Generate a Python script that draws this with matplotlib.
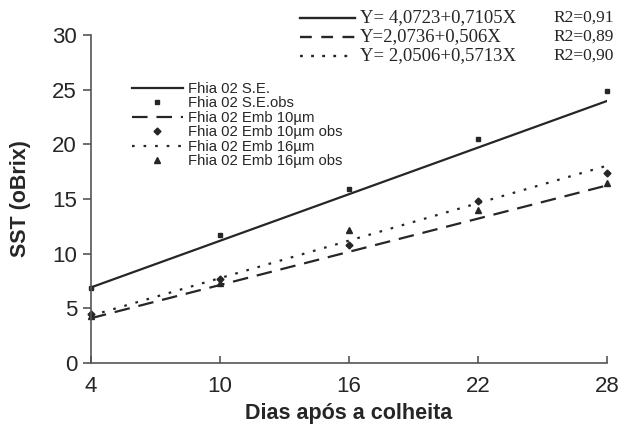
import numpy as np
import matplotlib
matplotlib.use("Agg")
import matplotlib.pyplot as plt
from matplotlib.lines import Line2D

days = np.array([4, 10, 16, 22, 28])
se_obs = [6.9, 11.7, 15.9, 20.5, 24.9]
emb10_obs = [4.5, 7.7, 10.8, 14.8, 17.4]
emb16_obs = [4.3, 7.3, 12.2, 14.0, 16.5]

# regression coefficients (intercept, slope) as printed
fits = {
    "se": (4.0723, 0.7105),
    "emb10": (2.0736, 0.506),
    "emb16": (2.0506, 0.5713),
}
eq_labels = ["Y= 4,0723+0,7105X", "Y=2,0736+0,506X", "Y= 2,0506+0,5713X"]
r2_labels = ["R2=0,91", "R2=0,89", "R2=0,90"]

plt.rcParams['font.family'] = ['Liberation Sans', 'DejaVu Sans']
C = '#262626'
W, H = 622, 430

fig = plt.figure(figsize=(6.22, 4.30), dpi=100)
ax = fig.add_axes([91 / W, 1 - 363 / H, (607 - 91) / W, (363 - 35) / H])

def fitline(key):
    a, b = fits[key]
    return a + b * days

ax.plot(days, fitline("se"), '-', color=C, lw=1.6, label='Fhia 02 S.E.')
ax.plot(days, se_obs, 's', color=C, ms=3.5, label='Fhia 02 S.E.obs', clip_on=False)
ax.plot(days, fitline("emb10"), '--', color=C, lw=1.6, dashes=(7, 4), label='Fhia 02 Emb 10µm')
ax.plot(days, emb10_obs, 'D', color=C, ms=3.5, label='Fhia 02 Emb 10µm obs', clip_on=False)
ax.plot(days, fitline("emb16"), ':', color=C, lw=1.6, dashes=(1.2, 4), label='Fhia 02 Emb 16µm')
ax.plot(days, emb16_obs, '^', color=C, ms=4, label='Fhia 02 Emb 16µm obs', clip_on=False)

ax.set_xlim(4, 28)
ax.set_ylim(0, 30)
ax.set_xticks(days)
ax.set_yticks(np.arange(0, 31, 5))
for s in ['top', 'right']:
    ax.spines[s].set_visible(False)
for s in ['left', 'bottom']:
    ax.spines[s].set_color('#555555')
    ax.spines[s].set_linewidth(1.2)
ax.tick_params(axis='y', direction='out', length=6, width=1.2, color='#555555',
               labelsize=16, labelcolor=C, pad=4)
ax.tick_params(axis='x', direction='in', length=5, width=1.2, color='#555555',
               labelsize=16, labelcolor=C, pad=9)

ax.set_xlabel('Dias após a colheita', fontsize=15.5, fontweight='bold', color=C)
ax.xaxis.set_label_coords(0.5, (363 - 413) / 328)
ax.xaxis.label.set_va('center')
ax.set_ylabel('SST (oBrix)', fontsize=15.5, fontweight='bold', color=C)
ax.yaxis.set_label_coords((21 - 91) / 516, 0.5)
ax.yaxis.label.set_va('center')

leg = ax.legend(loc='upper left', bbox_to_anchor=(132 / W, 1 - 82 / H),
                bbox_transform=fig.transFigure, frameon=False,
                fontsize=10.7, handlelength=3.4, handletextpad=0.35,
                labelspacing=0.03, borderaxespad=0, borderpad=0)
for t in leg.get_texts():
    t.set_color(C)

# equation block at top right (figure coordinates)
styles = [dict(ls='-'), dict(ls='--', dashes=(5, 4)), dict(ls=':', dashes=(1.2, 3.5))]
rows_y = [18, 37, 56]
for (st, yy, eq, r2) in zip(styles, rows_y, eq_labels, r2_labels):
    fy = 1 - yy / H
    fig.add_artist(Line2D([300 / W, 355 / W], [fy, fy], color=C, lw=1.7,
                          transform=fig.transFigure, **st))
    fig.text(360 / W, fy, eq, fontsize=13.5, family='Liberation Serif',
             color=C, va='center', ha='left')
    fig.text(553 / W, fy, r2, fontsize=12.5, family='Liberation Serif',
             color=C, va='center', ha='left')

fig.savefig('out.png', dpi=100)
